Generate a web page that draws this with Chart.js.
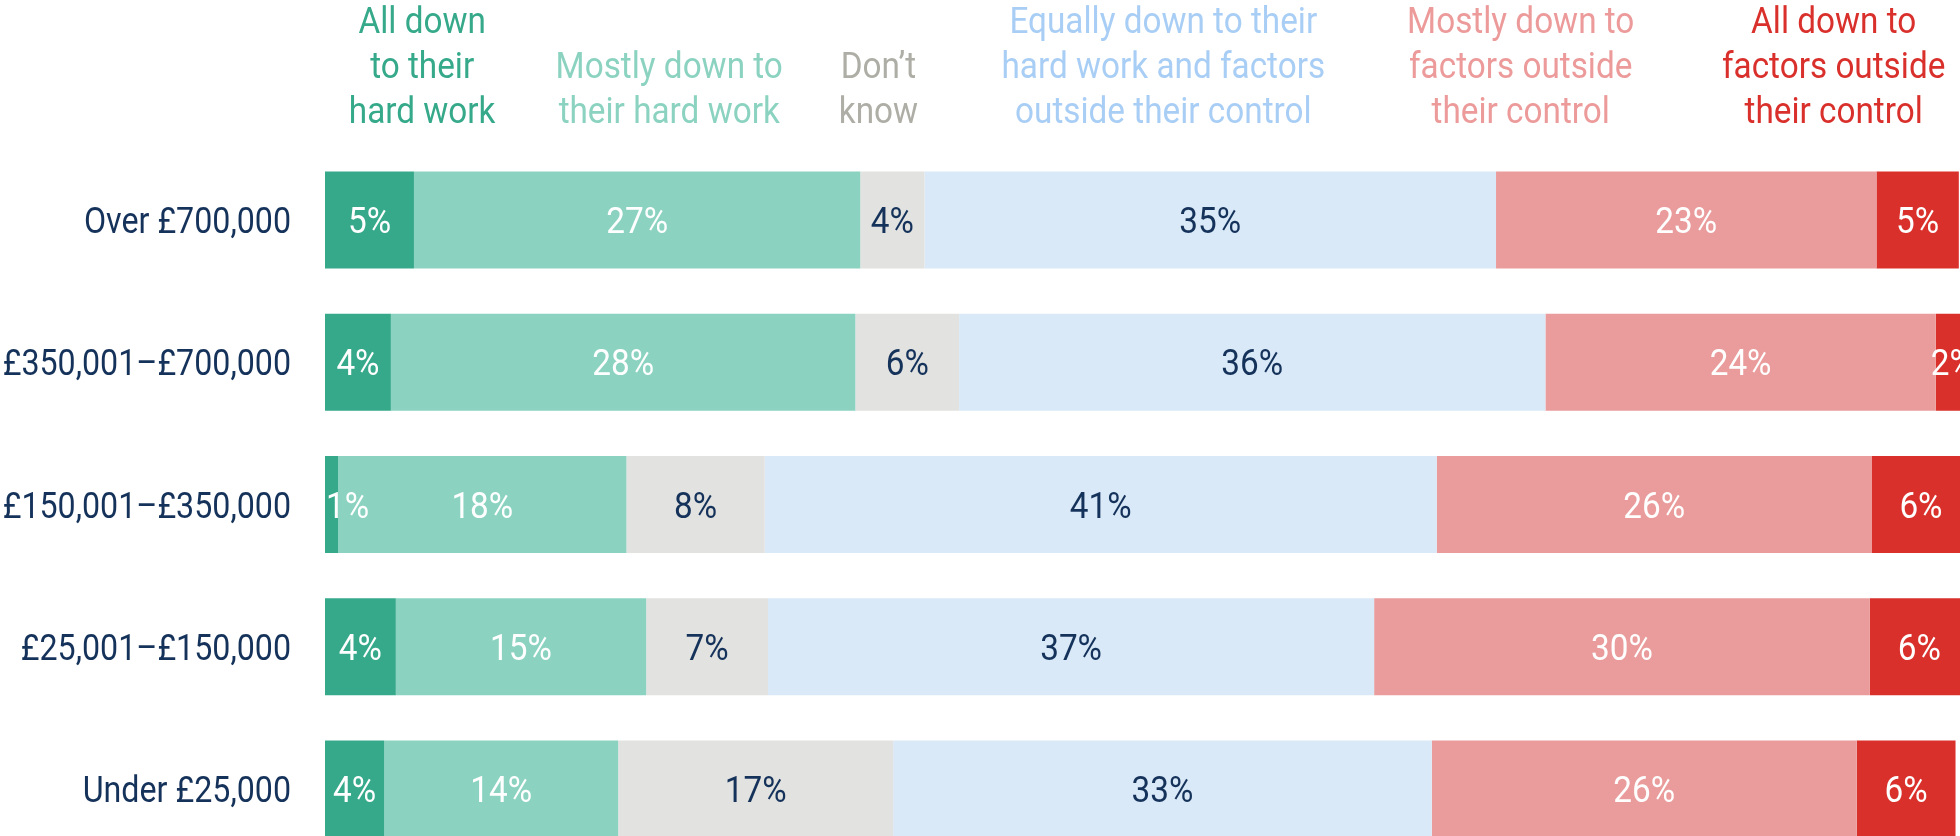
<!DOCTYPE html>
<html>
<head>
<meta charset="utf-8">
<script src="https://cdn.jsdelivr.net/npm/chart.js@4.4.1/dist/chart.umd.min.js"></script>
<style>
    html, body { margin: 0; padding: 0; background: #fff; overflow: hidden; width: 1960px; height: 836px; }
    #wealth-chart { position: absolute; left: 0; top: 0; }
</style>
</head>
<body>
<canvas id="wealth-chart" width="1972" height="860"></canvas>
<script>
// Household wealth bands (rows)
const bands = ["Over £700,000", "£350,001–£700,000", "£150,001–£350,000", "£25,001–£150,000", "Under £25,000"];

// Column headers, one array of lines per answer
const answerHeaders = [
    ["All down", "to their", "hard work"],
    ["Mostly down to", "their hard work"],
    ["Don’t", "know"],
    ["Equally down to their", "hard work and factors", "outside their control"],
    ["Mostly down to", "factors outside", "their control"],
    ["All down to", "factors outside", "their control"]
];

// Shares in % (labels are these rounded)
const allHardWork     = [5.4, 4.0, 0.8, 4.3, 3.6];
const mostlyHardWork  = [27.1, 28.2, 17.5, 15.2, 14.2];
const dontKnow        = [3.9, 6.3, 8.4, 7.4, 16.7];
const equally         = [34.7, 35.6, 40.8, 36.8, 32.7];
const mostlyOutside   = [23.1, 23.7, 26.4, 30.1, 25.8];
const allOutside      = [5, 2, 6, 6, 6];

const barColors    = ["#35a98a", "#8bd3c0", "#e2e2e0", "#d9e9f8", "#ea9c9c", "#d9302c"];
const headerColors = ["#35a98a", "#8bd3c0", "#aeaea6", "#a9cef5", "#ec9a9a", "#d9302c"];
const labelColors  = ["#fff", "#fff", "#15325a", "#15325a", "#fff", "#fff"];
const NAVY = "#15325a";
const FONT = "37px Roboto, sans-serif";
const SQUEEZE = 0.9;      // no condensed face installed, so narrow the text by hand
const ROW_SQUEEZE = 0.87;
const CAP = 13;           // half the cap height, to centre digits on a bar

// where each header sits, in % along the bar
const headerAt = [5.9, 20.9, 33.6, 50.9, 72.6, 91.6];

const seriesValues = [allHardWork, mostlyHardWork, dontKnow, equally, mostlyOutside, allOutside];

function drawText(ctx, text, x, y, align, squeeze = SQUEEZE) {
    ctx.save();
    ctx.translate(x, y);
    ctx.scale(squeeze, 1);
    ctx.textAlign = align;
    ctx.textBaseline = 'alphabetic';
    ctx.fillText(text, 0, 0);
    ctx.restore();
}

// draws the % inside each segment
const segmentLabels = {
    id: 'segmentLabels',
    afterDatasetsDraw(chart) {
        const ctx = chart.ctx;
        ctx.save();
        ctx.font = FONT;
        chart.data.datasets.forEach((ds, i) => {
            const meta = chart.getDatasetMeta(i);
            meta.data.forEach((bar, j) => {
                const text = Math.round(ds.data[j]) + '%';
                const half = ctx.measureText(text).width * SQUEEZE / 2;
                const cx = Math.max((bar.x + bar.base) / 2, chart.chartArea.left + half + 1);
                ctx.fillStyle = labelColors[i];
                drawText(ctx, text, cx, bar.y + CAP, 'center');
            });
        });
        ctx.restore();
    }
};

// row names and coloured headers above the columns
const axisText = {
    id: 'axisText',
    afterDraw(chart) {
        const ctx = chart.ctx;
        const xScale = chart.scales.x;
        const yScale = chart.scales.y;
        ctx.save();
        ctx.font = FONT;
        ctx.fillStyle = NAVY;
        bands.forEach((b, j) => {
            drawText(ctx, b, 291, yScale.getPixelForValue(j) + CAP, 'right', ROW_SQUEEZE);
        });
        answerHeaders.forEach((lines, i) => {
            ctx.fillStyle = headerColors[i];
            const px = xScale.getPixelForValue(headerAt[i]);
            lines.forEach((t, k) => {
                const baseline = 123 - (lines.length - 1 - k) * 45;
                drawText(ctx, t, px, baseline, 'center');
            });
        });
        ctx.restore();
    }
};

const ctx = document.getElementById('wealth-chart').getContext('2d');

new Chart(ctx, {
    type: 'bar',
    data: {
        labels: bands,
        datasets: seriesValues.map((vals, i) => ({
            label: answerHeaders[i].join(' '),
            data: vals,
            backgroundColor: barColors[i],
            borderWidth: 0,
            barPercentage: 0.682,
            categoryPercentage: 1
        }))
    },
    options: {
        indexAxis: 'y',
        responsive: false,
        animation: false,
        layout: {
            padding: { top: 149, left: 0, right: 0, bottom: 0 }
        },
        scales: {
            x: {
                stacked: true,
                display: false,
                min: 0,
                max: 100
            },
            y: {
                stacked: true,
                grid: { display: false, drawTicks: false },
                border: { display: false },
                ticks: { display: false },
                afterFit(scale) {
                    scale.width = 325;
                }
            }
        },
        plugins: {
            legend: { display: false },
            tooltip: { enabled: false }
        }
    },
    plugins: [segmentLabels, axisText]
});
</script>
</body>
</html>
